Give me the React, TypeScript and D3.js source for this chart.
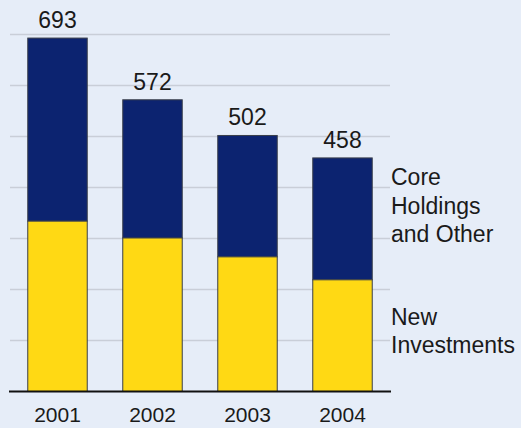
import React, { useEffect } from 'react';
import * as d3 from 'd3';

const years = ['2001', '2002', '2003', '2004'];
const newInvestments = [334, 301, 264, 219];
const coreHoldings = [359, 271, 238, 239];
const totals = [693, 572, 502, 458];
const gridTicks = [100, 200, 300, 400, 500, 600, 700];
const coreLabel = ['Core', 'Holdings', 'and Other'];
const newLabel = ['New', 'Investments'];

const W = 521;
const H = 428;

const App = () => {
  useEffect(() => {
    document.body.style.margin = '0';
  }, []);

  const x = d3.scaleBand<string>()
    .domain(years)
    .range([10, 390])
    .paddingInner(0.374)
    .paddingOuter(0.187);

  const y = d3.scaleLinear().domain([0, 700]).range([391.5, 34.5]);

  const font = '"Liberation Sans", Arial, sans-serif';

  return (
    <svg width={W} height={H} style={{ display: 'block', fontFamily: font }}>
      <rect width={W} height={H} fill="#e6edf8" />

      {/* gridlines */}
      {gridTicks.map(t => (
        <line key={t} x1={10} x2={390} y1={y(t)} y2={y(t)} stroke="#c9ced8" strokeWidth={1.6} />
      ))}

      {/* bars */}
      {years.map((yr, i) => {
        const bx = x(yr)!;
        const bw = x.bandwidth();
        const split = y(newInvestments[i]);
        const top = y(newInvestments[i] + coreHoldings[i]);
        return (
          <g key={yr}>
            <rect x={bx} y={top} width={bw} height={split - top} fill="#0c2370" stroke="#3a3f4a" strokeWidth={1} />
            <rect x={bx} y={split} width={bw} height={y(0) - split} fill="#ffd914" stroke="#3a3f4a" strokeWidth={1} />
            <text x={bx + bw / 2} y={y(totals[i]) - 10} textAnchor="middle" fontSize={23} fill="#1a1a1a">
              {totals[i]}
            </text>
            <text x={bx + bw / 2} y={422} textAnchor="middle" fontSize={21} fill="#1a1a1a">
              {yr}
            </text>
          </g>
        );
      })}

      {/* baseline */}
      <line x1={9} x2={391} y1={y(0)} y2={y(0)} stroke="#111" strokeWidth={2.2} />

      {/* legend labels */}
      <text x={391} y={185} fontSize={23} fill="#1a1a1a">
        {coreLabel.map((l, i) => (
          <tspan key={l} x={391} dy={i === 0 ? 0 : 28.5}>{l}</tspan>
        ))}
      </text>
      <text x={391} y={325} fontSize={23} fill="#1a1a1a">
        {newLabel.map((l, i) => (
          <tspan key={l} x={391} dy={i === 0 ? 0 : 28}>{l}</tspan>
        ))}
      </text>
    </svg>
  );
};

export default App;
